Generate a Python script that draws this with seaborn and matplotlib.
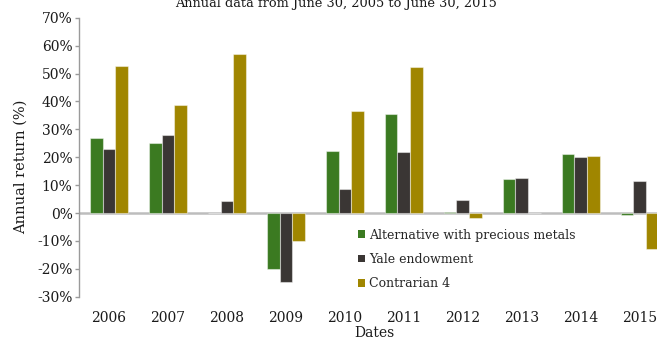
import matplotlib
matplotlib.use("Agg")
import matplotlib.pyplot as plt
import seaborn as sns
import pandas as pd
from matplotlib.patches import Patch
from matplotlib.ticker import FuncFormatter, MultipleLocator

years = ["2006", "2007", "2008", "2009", "2010", "2011", "2012", "2013", "2014", "2015"]
series_names = ["Alternative with precious metals", "Yale endowment", "Contrarian 4"]
alt_precious = [26.8, 25.1, 0.1, -19.9, 22.4, 35.4, 0.3, 12.1, 21.3, -0.6]
yale_endowment = [22.8, 28.0, 4.4, -24.7, 8.7, 21.9, 4.6, 12.5, 20.2, 11.4]
contrarian_4 = [52.7, 38.7, 57.1, -9.9, 36.7, 52.5, -1.8, 0.1, 20.3, -12.9]
colors = ["#3b7a21", "#3a3634", "#a08600"]

df = pd.DataFrame({
    "Dates": years * 3,
    "Series": [n for n in series_names for _ in years],
    "Return": alt_precious + yale_endowment + contrarian_4,
})

sns.set_theme(style="white")
plt.rcParams["font.family"] = ["DejaVu Serif"]
text_color = "#1a1a1a"

fig = plt.figure(figsize=(6.57, 3.40), dpi=100)
ax = fig.add_axes([0.121, 0.127, 0.898, 0.821])

sns.barplot(data=df, x="Dates", y="Return", hue="Series", order=years,
            hue_order=series_names, palette=colors, saturation=1, width=0.66,
            edgecolor=(1, 1, 1, 0.45), linewidth=0.8, legend=False, ax=ax)

ax.set_xlim(-0.5, 9.5)
ax.set_ylim(-30, 70)
ax.yaxis.set_major_locator(MultipleLocator(10))
ax.yaxis.set_major_formatter(FuncFormatter(lambda v, _: f"{v:.0f}%"))
ax.axhline(0, color="#bdbdbd", lw=1.8, zorder=0.5)

for side in ["top", "right", "bottom"]:
    ax.spines[side].set_visible(False)
ax.spines["left"].set_color("#9a9a9a")
ax.spines["left"].set_linewidth(1.0)

ax.tick_params(axis="y", left=True, length=3, width=1, color="#9a9a9a",
               labelsize=10, labelcolor=text_color, pad=2)
ax.tick_params(axis="x", bottom=False, labelsize=10, labelcolor=text_color, pad=4)

ax.set_xlabel("Dates", fontsize=10, color=text_color)
ax.xaxis.set_label_coords(0.5, -0.104)
ax.set_ylabel("Annual return (%)", fontsize=10.5, color=text_color)
ax.yaxis.set_label_coords(-0.0875, 0.467)

fig.text(0.511, 0.978, "Annual data from June 30, 2005 to June 30, 2015",
         ha="center", va="baseline", fontsize=9.3, color=text_color)

handles = [Patch(facecolor=c, edgecolor="none") for c in colors]
ax.legend(handles, series_names, loc="upper left", bbox_to_anchor=(0.463, 0.262),
          frameon=False, fontsize=9, handlelength=0.6, handleheight=0.6,
          handletextpad=0.3, labelspacing=0.9, borderaxespad=0)

fig.savefig("out.png", dpi=100)
